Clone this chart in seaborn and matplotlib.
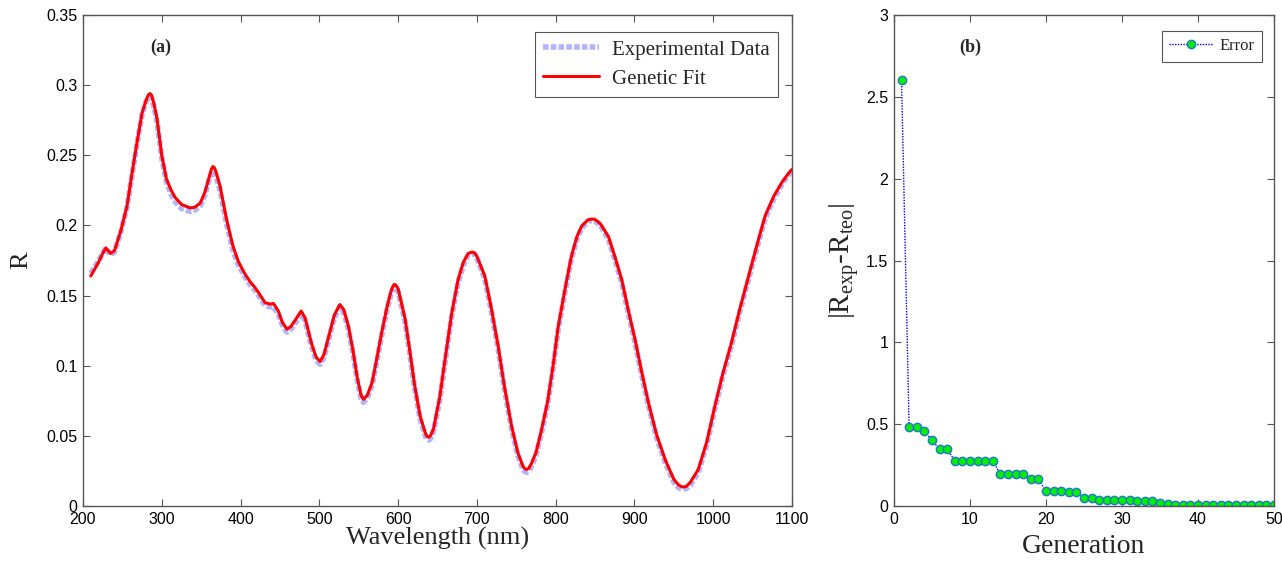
import numpy as np
import pandas as pd
import matplotlib
matplotlib.use("Agg")
import matplotlib.pyplot as plt
import seaborn as sns

# ---------------- data ----------------
wavelength = [210, 220, 225, 229, 235, 240, 248, 256, 262, 268,
              275, 280, 283, 285, 287, 290, 294, 300, 306, 312,
              317, 325, 336, 342, 349, 355, 360, 363, 365, 367,
              369, 374, 382, 390, 397, 405, 412, 418, 423, 431,
              437, 442, 448, 453, 459, 464, 470, 477, 482, 490,
              496, 501, 506, 512, 519, 526, 531, 537, 543, 548,
              553, 556, 561, 567, 573, 579, 586, 591, 593, 595,
              597, 600, 609, 615, 621, 628, 634, 636, 639, 641,
              645, 653, 660, 668, 676, 683, 689, 691, 694, 697,
              700, 710, 718, 727, 735, 744, 752, 758, 760, 763,
              766, 769, 775, 782, 790, 797, 803, 812, 820, 827,
              833, 841, 845, 849, 853, 857, 867, 875, 884, 892,
              901, 909, 918, 928, 939, 950, 956, 961, 966, 971,
              981, 992, 1002, 1012, 1023, 1034, 1045, 1056, 1066, 1077,
              1087, 1094, 1100]

genetic_fit = [0.164, 0.174, 0.180, 0.184, 0.180, 0.182, 0.196, 0.214, 0.236, 0.257,
               0.280, 0.289, 0.293, 0.294, 0.293, 0.287, 0.276, 0.250, 0.233, 0.225,
               0.220, 0.215, 0.2125, 0.213, 0.216, 0.224, 0.234, 0.240, 0.242, 0.241,
               0.238, 0.228, 0.205, 0.186, 0.1745, 0.166, 0.160, 0.156, 0.152, 0.145,
               0.144, 0.1443, 0.139, 0.131, 0.126, 0.128, 0.133, 0.139, 0.134, 0.116,
               0.106, 0.103, 0.108, 0.121, 0.136, 0.1436, 0.140, 0.128, 0.110, 0.092,
               0.079, 0.076, 0.079, 0.088, 0.105, 0.123, 0.142, 0.153, 0.156, 0.158,
               0.1575, 0.155, 0.133, 0.110, 0.086, 0.064, 0.053, 0.050, 0.049, 0.050,
               0.055, 0.078, 0.106, 0.137, 0.161, 0.174, 0.180, 0.1805, 0.181, 0.1805,
               0.178, 0.164, 0.142, 0.114, 0.085, 0.057, 0.038, 0.029, 0.027, 0.026,
               0.027, 0.030, 0.038, 0.054, 0.075, 0.101, 0.127, 0.155, 0.178, 0.192,
               0.1995, 0.204, 0.2045, 0.2045, 0.203, 0.201, 0.192, 0.178, 0.161, 0.140,
               0.118, 0.096, 0.073, 0.051, 0.033, 0.019, 0.015, 0.0135, 0.014, 0.017,
               0.026, 0.046, 0.071, 0.094, 0.116, 0.141, 0.164, 0.187, 0.207, 0.221,
               0.2305, 0.236, 0.240]

experimental = [0.166, 0.175, 0.180, 0.184, 0.179, 0.181, 0.195, 0.213, 0.235, 0.256,
                0.279, 0.288, 0.291, 0.292, 0.291, 0.285, 0.274, 0.248, 0.231, 0.222,
                0.217, 0.212, 0.210, 0.211, 0.214, 0.222, 0.232, 0.237, 0.239, 0.238,
                0.235, 0.225, 0.202, 0.183, 0.172, 0.164, 0.158, 0.154, 0.150, 0.143,
                0.142, 0.142, 0.137, 0.129, 0.124, 0.126, 0.131, 0.137, 0.132, 0.114,
                0.104, 0.101, 0.106, 0.119, 0.134, 0.142, 0.138, 0.126, 0.108, 0.090,
                0.077, 0.074, 0.077, 0.086, 0.103, 0.121, 0.140, 0.151, 0.154, 0.156,
                0.1555, 0.153, 0.131, 0.108, 0.084, 0.062, 0.051, 0.048, 0.047, 0.048,
                0.053, 0.076, 0.104, 0.135, 0.159, 0.172, 0.179, 0.1795, 0.180, 0.1795,
                0.177, 0.162, 0.140, 0.112, 0.083, 0.055, 0.036, 0.027, 0.025, 0.024,
                0.025, 0.028, 0.036, 0.052, 0.073, 0.099, 0.125, 0.153, 0.176, 0.190,
                0.198, 0.203, 0.2035, 0.203, 0.202, 0.200, 0.190, 0.176, 0.159, 0.138,
                0.116, 0.094, 0.071, 0.049, 0.031, 0.017, 0.013, 0.012, 0.0125, 0.015,
                0.024, 0.044, 0.069, 0.092, 0.114, 0.139, 0.162, 0.185, 0.205, 0.219,
                0.229, 0.235, 0.239]

generation = list(range(1, 51))
error = [2.60, 0.48, 0.48, 0.459, 0.402, 0.347, 0.347, 0.278, 0.278, 0.278,
         0.278, 0.278, 0.278, 0.194, 0.194, 0.194, 0.194, 0.165, 0.165, 0.092,
         0.092, 0.092, 0.088, 0.088, 0.051, 0.051, 0.039, 0.039, 0.039, 0.039,
         0.039, 0.031, 0.031, 0.031, 0.020, 0.014, 0.004, 0.004, 0.004, 0.004,
         0.004, 0.004, 0.004, 0.004, 0.004, 0.004, 0.004, 0.004, 0.004, 0.004]

left_xticks = [200, 300, 400, 500, 600, 700, 800, 900, 1000, 1100]
left_yticks = [0, 0.05, 0.1, 0.15, 0.2, 0.25, 0.3, 0.35]
left_yticklabels = ["0", "0.05", "0.1", "0.15", "0.2", "0.25", "0.3", "0.35"]
right_xticks = [0, 10, 20, 30, 40, 50]
right_yticks = [0, 0.5, 1, 1.5, 2, 2.5, 3]
right_yticklabels = ["0", "0.5", "1", "1.5", "2", "2.5", "3"]

# ---------------- style ----------------
sns.set_style("ticks")
plt.rcParams["font.family"] = ["Liberation Sans", "DejaVu Sans"]
plt.rcParams["mathtext.fontset"] = "custom"
plt.rcParams["mathtext.rm"] = "Liberation Serif"
plt.rcParams["mathtext.it"] = "Liberation Serif:italic"
plt.rcParams["xtick.direction"] = "in"
plt.rcParams["ytick.direction"] = "in"
serif = ["Liberation Serif", "DejaVu Serif"]
spine_col = "#555555"

fig = plt.figure(figsize=(12.82, 5.62), dpi=100)
ax1 = fig.add_axes([0.0647, 0.0996, 0.5531, 0.8737])
ax2 = fig.add_axes([0.6973, 0.0996, 0.2964, 0.8737])

# ---------------- left panel ----------------
spec = pd.DataFrame({"wl": wavelength, "fit": genetic_fit, "exp": experimental})
sns.lineplot(data=spec, x="wl", y="exp", ax=ax1, color="#b3b3ff", lw=4.0,
             linestyle=(0, (1, 0.4)), sort=False, estimator=None, label="Experimental Data")
sns.lineplot(data=spec, x="wl", y="fit", ax=ax1, color="#ff0000", lw=2.2,
             sort=False, estimator=None, label="Genetic Fit")
ax1.set_xlim(200, 1100)
ax1.set_ylim(0, 0.35)
ax1.set_xticks(left_xticks)
ax1.set_yticks(left_yticks)
ax1.set_yticklabels(left_yticklabels)
ax1.set_xlabel("Wavelength (nm)", fontfamily=serif, fontsize=19, labelpad=0)
ax1.set_ylabel("R", fontfamily=serif, fontsize=19, labelpad=10)
ax1.text(0.11, 0.935, "(a)", transform=ax1.transAxes, fontfamily=serif,
         fontweight="bold", fontsize=13, ha="center", va="center")
leg1 = ax1.legend(loc="upper right", bbox_to_anchor=(0.995, 0.987), fancybox=False,
                  frameon=True, edgecolor="#555555", framealpha=1,
                  prop={"family": serif, "size": 15}, handlelength=2.7,
                  borderpad=0.4, labelspacing=0.45, handletextpad=0.6)
leg1.get_frame().set_linewidth(0.8)

# ---------------- right panel ----------------
err = pd.DataFrame({"gen": generation, "err": error})
sns.lineplot(data=err, x="gen", y="err", ax=ax2, color="#0000ff", lw=1.0,
             linestyle=(0, (1, 1)), marker="o", markersize=6,
             markerfacecolor="#00ee00", markeredgecolor="#1f77d0", markeredgewidth=1.0,
             sort=False, estimator=None, label="Error")
ax2.set_xlim(0, 50)
ax2.set_ylim(0, 3)
ax2.set_xticks(right_xticks)
ax2.set_yticks(right_yticks)
ax2.set_yticklabels(right_yticklabels)
ax2.set_xlabel("Generation", fontfamily=serif, fontsize=20, labelpad=5)
ax2.set_ylabel(r"|R$_{\rm exp}$-R$_{\rm teo}$|", fontsize=21, fontfamily=serif, labelpad=4)
ax2.text(0.2, 0.935, "(b)", transform=ax2.transAxes, fontfamily=serif,
         fontweight="bold", fontsize=13, ha="center", va="center")
leg2 = ax2.legend(loc="upper right", bbox_to_anchor=(0.99, 0.985), fancybox=False,
                  frameon=True, edgecolor="#555555", framealpha=1,
                  prop={"family": serif, "size": 12}, handlelength=2.6,
                  borderpad=0.45, handletextpad=0.4)
leg2.get_frame().set_linewidth(0.8)

for ax in (ax1, ax2):
    for s in ax.spines.values():
        s.set_visible(True)
        s.set_color(spine_col)
        s.set_linewidth(1.0)
    ax.tick_params(axis="both", which="both", top=True, right=True, length=5,
                   width=0.8, color=spine_col, labelsize=11.5, labelcolor="black", pad=4)
    ax.set_facecolor("white")

fig.savefig("out.png", dpi=100, facecolor="white")
